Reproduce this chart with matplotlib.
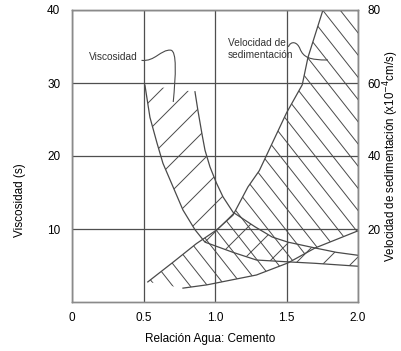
import matplotlib
matplotlib.use('Agg')
import matplotlib.pyplot as plt
import numpy as np
from matplotlib.patches import Polygon, PathPatch
from matplotlib.path import Path
from matplotlib.collections import LineCollection

plt.rcParams['font.family'] = ['Liberation Sans', 'DejaVu Sans']

INK = '#4a4a4a'
GRID = '#4f4f4f'
SPINE = '#8a8a8a'

# viscosity band (left axis, s)
visc_low_x = [0.51, 0.545, 0.594, 0.636, 0.706, 0.776, 0.86, 0.93, 1.126, 1.29, 1.51, 1.70, 2.0]
visc_low_y = [29.7, 25.3, 21.8, 19.0, 15.8, 12.6, 9.9, 8.2, 6.8, 5.75, 5.5, 5.3, 4.9]
visc_up_x = [0.86, 0.88, 0.91, 0.93, 0.965, 1.01, 1.056, 1.126, 1.28, 1.40, 1.51, 1.70, 1.85, 2.0]
visc_up_y = [28.8, 26.3, 22.9, 20.8, 18.5, 16.3, 14.4, 12.3, 10.3, 8.9, 8.2, 7.4, 6.8, 6.4]

# sedimentation band (right axis, x10^-4 cm/s)
sed_left_x = [0.53, 0.71, 0.87, 1.01, 1.126, 1.23, 1.31, 1.50, 1.61, 1.65, 1.755]
sed_left_y = [5.5, 11.0, 16.0, 19.7, 23.8, 31.5, 36.0, 51.8, 59.5, 67.0, 80.0]
sed_low_x = [0.776, 0.944, 1.29, 1.51, 1.70, 2.0]
sed_low_y = [3.8, 4.7, 7.4, 10.7, 14.8, 19.5]

x_ticks = [0, 0.5, 1.0, 1.5, 2.0]
x_labels = ['0', '0.5', '1.0', '1.5', '2.0']
left_ticks = [10, 20, 30, 40]
right_ticks = [20, 40, 60, 80]

fig = plt.figure(figsize=(4.01, 3.51), dpi=100)
ax = fig.add_axes([72 / 401, 49 / 351, 286 / 401, 292 / 351])
ax.set_xlim(0, 2)
ax.set_ylim(0, 40)
ax2 = ax.twinx()
ax2.set_ylim(0, 80)

ax.set_xticks(x_ticks)
ax.set_xticklabels(x_labels)
ax.set_yticks(left_ticks)
ax2.set_yticks(right_ticks)
ax.grid(color=GRID, lw=0.9)
ax.tick_params(axis='y', length=0, labelsize=8.5, pad=8.5)
ax.tick_params(axis='x', length=0, labelsize=8.5, pad=7)
ax2.tick_params(axis='y', length=0, labelsize=8.5, pad=7)
for a in (ax, ax2):
    for s in a.spines.values():
        s.set_color(SPINE)
        s.set_linewidth(1.0)

# hatch lines in axes pixel space, clipped to each band
W, H = ax.bbox.width, ax.bbox.height


def hatch(target, verts, slope, offsets):
    clip = Polygon(verts, closed=True, fill=False, lw=0, transform=target.transData)
    target.add_patch(clip)
    xs = np.array([-30.0, W + 30.0])
    segs = [np.column_stack([xs / W, (slope * xs + b) / H]) for b in offsets]
    lc = LineCollection(segs, colors=INK, linewidths=0.7, transform=target.transAxes)
    target.add_collection(lc)
    lc.set_clip_path(clip)


visc_verts = list(zip(visc_low_x, visc_low_y)) + list(zip(visc_up_x[::-1], visc_up_y[::-1]))
hatch(ax, visc_verts, 1.0, np.arange(123 - 28 * 18, 420, 28))

sed_verts = list(zip(sed_left_x, sed_left_y)) + [(2.0, 80.0)] + list(zip(sed_low_x[::-1], sed_low_y[::-1]))
hatch(ax2, sed_verts, -1.27, np.arange(632.4 - 22.2 * 30, 720, 22.2))

ax.plot(visc_low_x, visc_low_y, color=INK, lw=0.9)
ax.plot(visc_up_x, visc_up_y, color=INK, lw=0.9)
ax2.plot(sed_left_x, sed_left_y, color=INK, lw=0.9)
ax2.plot(sed_low_x, sed_low_y, color=INK, lw=0.9)

# curly leaders for the two labels
C4 = Path.CURVE4
visc_leader = Path([(0.486, 33.1), (0.58, 32.9), (0.62, 34.6), (0.69, 34.5),
                    (0.735, 34.4), (0.725, 31.0), (0.708, 27.4)],
                   [Path.MOVETO, C4, C4, C4, C4, C4, C4])
ax.add_patch(PathPatch(visc_leader, fill=False, ec=INK, lw=0.8))
sed_leader = Path([(1.513, 69.9), (1.53, 71.6), (1.575, 71.4), (1.595, 69.3),
                   (1.62, 67.0), (1.66, 66.3), (1.79, 66.3)],
                  [Path.MOVETO, C4, C4, C4, C4, C4, C4])
ax2.add_patch(PathPatch(sed_leader, fill=False, ec=INK, lw=0.8))

ax.text(0.462, 33.6, 'Viscosidad', ha='right', va='center', fontsize=7.3, color='#333')
ax.text(1.09, 34.65, 'Velocidad de\nsedimentación', ha='left', va='center',
        fontsize=7.3, color='#333', linespacing=1.15)

fig.text(210 / 401, 1 - 339 / 351, 'Relación Agua: Cemento', ha='center', va='center', fontsize=8.5)
fig.text(20 / 401, 1 - 200 / 351, 'Viscosidad (s)', ha='center', va='center',
         rotation=90, fontsize=8.5)
fig.text(391 / 401, 1 - 156 / 351, 'Velocidad de sedimentación (x10$^{-4}$cm/s)',
         ha='center', va='center', rotation=90, fontsize=8.3)

fig.savefig('out.png', dpi=100, facecolor='white')
